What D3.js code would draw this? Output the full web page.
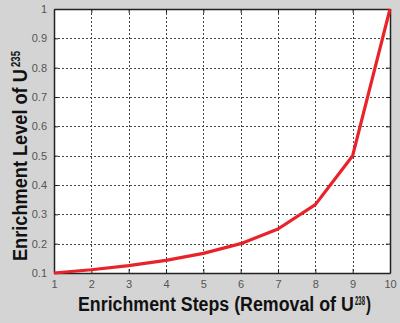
<!DOCTYPE html>
<html>
<head>
<meta charset="utf-8">
<script src="https://cdn.jsdelivr.net/npm/d3@7"></script>
<style>
  body { margin: 0; background: #d4d4d4; }
  svg { display: block; }
</style>
</head>
<body>
<svg id="chart" width="400" height="323"></svg>
<script>
// enrichment data
var steps = [1, 2, 3, 4, 5, 6, 7, 8, 9, 10];
var level = [0.1, 0.111, 0.125, 0.143, 0.167, 0.2, 0.25, 0.333, 0.5, 1.0];
var yTicks = [0.1, 0.2, 0.3, 0.4, 0.5, 0.6, 0.7, 0.8, 0.9, 1];

var svg = d3.select("#chart"),
  width = 400,
  height = 323;
var margin = {left: 54, top: 9, right: 10, bottom: 50};
var font = "Liberation Sans, Arial, sans-serif";

var x = d3.scaleLinear().domain([1, 10]).range([margin.left, width - margin.right]);
var y = d3.scaleLinear().domain([0.1, 1]).range([height - margin.bottom, margin.top]);

// plot area
svg.append("rect")
  .attr("x", x(1)).attr("y", y(1))
  .attr("width", x(10) - x(1)).attr("height", y(0.1) - y(1))
  .attr("fill", "#fff");

// dotted grid
var grid = svg.append("g").attr("stroke", "#444").attr("stroke-dasharray", "2,2").attr("stroke-width", 1);
grid.selectAll(".gx").data(steps.slice(1, -1)).enter().append("line")
  .attr("x1", function(d) { return Math.round(x(d)) + 0.5; }).attr("x2", function(d) { return Math.round(x(d)) + 0.5; })
  .attr("y1", y(1)).attr("y2", y(0.1));
grid.selectAll(".gy").data(yTicks.slice(1, -1)).enter().append("line")
  .attr("y1", function(d) { return Math.round(y(d)) + 0.5; }).attr("y2", function(d) { return Math.round(y(d)) + 0.5; })
  .attr("x1", x(1)).attr("x2", x(10));

// axes, matlab style: ticks inward on all four sides
function styleAxis(g) {
  g.select(".domain").attr("stroke", "#222").attr("stroke-width", 1.5);
  g.selectAll(".tick line").attr("stroke", "#222");
  g.selectAll(".tick text").attr("fill", "#555").attr("font-family", font).attr("font-size", 11);
}
svg.append("g").attr("transform", "translate(0," + y(0.1) + ")")
  .call(d3.axisBottom(x).tickValues(steps).tickSize(-4).tickSizeOuter(0).tickPadding(7))
  .call(styleAxis);
svg.append("g").attr("transform", "translate(" + x(1) + ",0)")
  .call(d3.axisLeft(y).tickValues(yTicks).tickFormat(d3.format("")).tickSize(-4).tickSizeOuter(0).tickPadding(7))
  .call(styleAxis);
svg.append("g").attr("transform", "translate(0," + y(1) + ")")
  .call(d3.axisTop(x).tickValues(steps).tickSize(-4).tickSizeOuter(0).tickFormat(""))
  .call(styleAxis);
svg.append("g").attr("transform", "translate(" + x(10) + ",0)")
  .call(d3.axisRight(y).tickValues(yTicks).tickSize(-4).tickSizeOuter(0).tickFormat(""))
  .call(styleAxis);

// the curve
var line = d3.line()
  .x(function(d, i) { return x(steps[i]); })
  .y(function(d) { return y(d); });
svg.append("path")
  .datum(level)
  .attr("d", line)
  .attr("fill", "none")
  .attr("stroke", "#e8232a")
  .attr("stroke-width", 3.2)
  .attr("stroke-linejoin", "round");

// titles: condensed bold, squeezed with a horizontal scale
function title(g, str, size, x0, y0, len) {
  var t = g.append("text")
    .attr("font-family", font).attr("font-weight", "bold")
    .attr("font-size", size).attr("fill", "#111")
    .text(str);
  var w = t.node().getComputedTextLength();
  var k = len / w;
  t.attr("transform", "translate(" + x0 + "," + y0 + ") scale(" + k + ",1)");
  return t;
}
var xg = svg.append("g").attr("transform", "translate(78,311)");
title(xg, "Enrichment Steps (Removal of U", 21, 0, 0, 276);
title(xg, "238", 12, 277, -6, 10);
title(xg, ")", 21, 288, 0, 5);

var yg = svg.append("g").attr("transform", "translate(27,261) rotate(-90)");
title(yg, "Enrichment Level of U", 21, 0, 0, 192);
title(yg, "235", 12, 194, -7, 16);
</script>
</body>
</html>
